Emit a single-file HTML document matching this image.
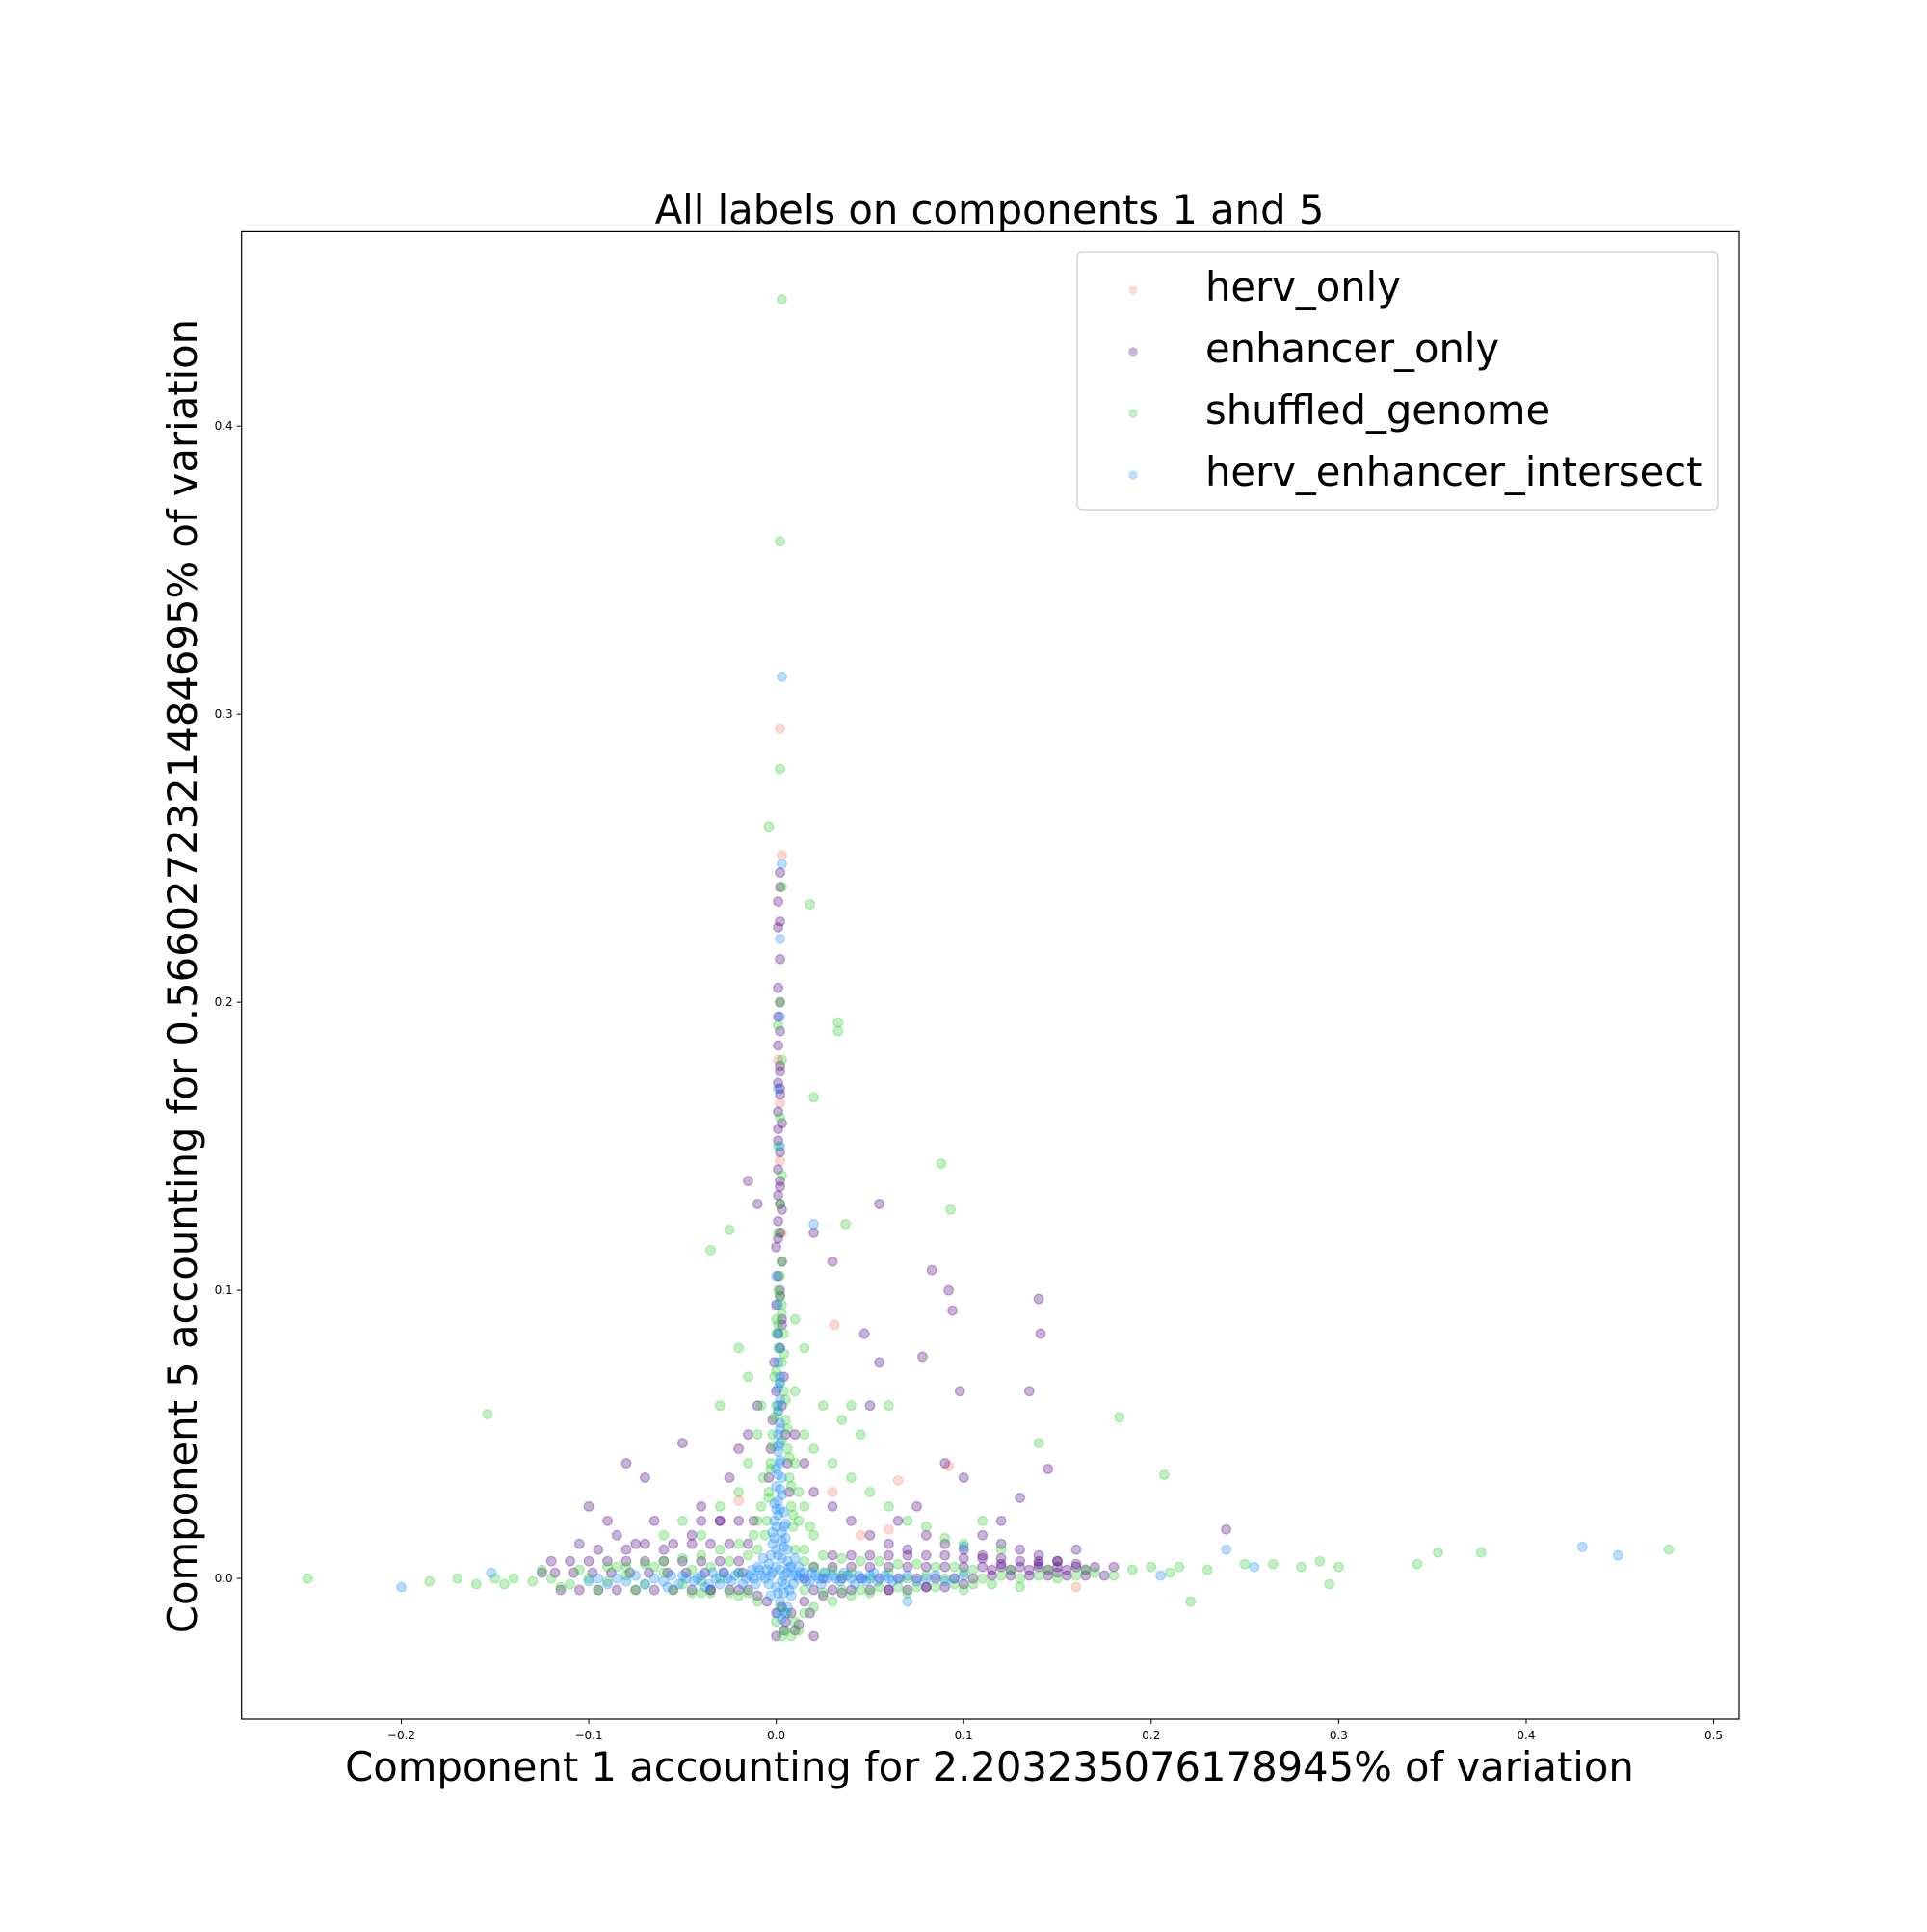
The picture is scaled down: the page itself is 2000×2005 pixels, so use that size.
<!DOCTYPE html>
<html><head><meta charset="utf-8"><style>
html,body{margin:0;padding:0;background:#fff;}
svg text{font-family:"DejaVu Sans","Liberation Sans",sans-serif;}
</style></head><body>
<svg id="chart" width="2000" height="2000" xmlns="http://www.w3.org/2000/svg">
<rect width="2000" height="2000" fill="#fff"/>
<g id="plot"></g>
<rect x="250.7" y="240.4" width="1554.3" height="1543.6" fill="none" stroke="#000" stroke-width="1.2"/>
<g id="ticks"></g>
<text x="1027" y="232" font-size="41.7" text-anchor="middle">All labels on components 1 and 5</text>
<text x="1027" y="1848" font-size="41.7" text-anchor="middle">Component 1 accounting for 2.203235076178945% of variation</text>
<text transform="translate(204,1013) rotate(-90)" font-size="41.7" text-anchor="middle">Component 5 accounting for 0.5660272321484695% of variation</text>
<g>
<rect x="1118" y="262" width="665" height="267" rx="5" fill="#fff" fill-opacity="0.8" stroke="#ccc" stroke-width="1.2"/>
<g id="legend-items"></g>
</g>
</svg>
<script>
const xTicks=[-0.2,-0.1,0.0,0.1,0.2,0.3,0.4,0.5];
const xTickLabels=["\u22120.2","\u22120.1","0.0","0.1","0.2","0.3","0.4","0.5"];
const yTicks=[0.0,0.1,0.2,0.3,0.4];
const yTickLabels=["0.0","0.1","0.2","0.3","0.4"];
const seriesNames=["herv_only","enhancer_only","shuffled_genome","herv_enhancer_intersect"];
const seriesColors=["#FA8072","#4B0082","#32CD32","#1E90FF"];

const hervOnly=[[0.002,0.295],[0.003,0.251],[0.031,0.088],[0.065,0.034],[0.092,0.039],[0.16,-0.003],[0.001,0.18],[0.002,0.165],[0.003,0.12],[-0.02,0.027],[0.045,0.015],[0.03,0.03],[0.06,0.017],[0.002,0.145]];

const enhancerOnly=[[-0.08,0.04],[-0.07,0.035],[-0.1,0.025],[-0.05,0.047],[0.055,0.13],[0.083,0.107],[0.094,0.093],[0.092,0.1],[0.14,0.097],[0.141,0.085],[0.135,0.065],[0.098,0.065],[0.078,0.077],[0.047,0.085],[0.055,0.075],[-0.015,0.138],[-0.01,0.13],[0.02,0.12],[0.03,0.11],[0.05,0.06],[0.09,0.04],[0.1,0.035],[0.13,0.028],[0.145,0.038],[0.24,0.017],[0.16,0.01],[0.0,-0.02],[0.02,-0.02],[0.01,-0.018],
[-0.09,0.02],[-0.085,0.015],[-0.075,0.012],[-0.065,0.02],[-0.06,0.01],[-0.045,0.015],[-0.04,0.025],[-0.03,0.02],[-0.025,0.035],[-0.02,0.045],[-0.015,0.05],[-0.01,0.06],[0.01,0.05],[0.015,0.04],[0.02,0.03],[0.03,0.025],[0.04,0.02],[0.05,0.015],[0.06,0.012],[0.07,0.01],[0.08,0.015],[0.09,0.012],[0.1,0.01],[0.11,0.008],[0.12,0.012],[0.13,0.01],[0.14,0.008],[0.15,0.006],[0.12,0.02],[0.11,0.015],[0.075,0.025],[0.065,0.02],
[-0.12,0.006],[-0.11,0.006],[-0.1,0.006],[-0.09,0.006],[-0.08,0.006],[-0.07,0.006],[-0.06,0.006],[-0.05,0.006],[-0.04,0.006],[-0.03,0.006],[-0.02,0.006],
[-0.115,-0.004],[-0.105,-0.004],[-0.095,-0.004],[-0.085,-0.004],[-0.075,-0.004],[-0.065,-0.004],[-0.055,-0.004],[-0.045,-0.004],[-0.035,-0.004],[-0.025,-0.004],[-0.015,-0.004],
[-0.125,0.002],[-0.118,0.002],[-0.108,0.002],[-0.098,0.002],[-0.088,0.002],[-0.078,0.002],[-0.068,0.002],[-0.058,0.002],[-0.048,0.002],[-0.038,0.002],[-0.028,0.002],[-0.018,0.002],
[-0.07,0.012],[-0.055,0.012],[-0.045,0.012],[-0.035,0.012],[-0.025,0.012],[-0.015,0.012],[-0.04,0.02],[-0.03,0.02],[-0.02,0.02],[-0.012,0.02],[-0.08,0.01],[-0.095,0.01],[-0.105,0.012],
[0.02,0.004],[0.03,0.004],[0.04,0.004],[0.05,0.004],[0.06,0.004],[0.07,0.004],[0.08,0.004],[0.09,0.004],[0.1,0.004],[0.11,0.004],[0.12,0.004],[0.13,0.004],[0.14,0.004],[0.15,0.004],[0.16,0.004],[0.17,0.004],[0.18,0.004],
[0.015,0.0],[0.025,0.0],[0.035,0.0],[0.045,0.0],[0.055,0.0],[0.065,0.0],[0.075,0.0],[0.085,0.0],[0.095,0.0],[0.105,0.0],[0.115,0.001],[0.125,0.001],[0.135,0.001],[0.145,0.001],[0.155,0.001],[0.165,0.001],[0.175,0.001],
[0.03,0.008],[0.04,0.008],[0.05,0.008],[0.06,0.008],[0.07,0.008],[0.08,0.008],[0.09,0.008],[0.1,0.007],[0.11,0.007],[0.12,0.007],[0.13,0.006],[0.14,0.006],[0.15,0.006],[0.16,0.005],
[0.115,0.003],[0.125,0.003],[0.135,0.003],[0.145,0.003],[0.155,0.003],[0.165,0.003],[0.12,0.005],[0.14,0.005],[0.15,0.002],
[0.02,-0.004],[0.03,-0.004],[0.04,-0.004],[0.05,-0.004],[0.06,-0.004],[0.07,-0.004],[0.08,-0.003],[0.09,-0.003],[0.1,-0.002],
[0.002,0.245],[0.002,0.24],[0.001,0.235],[0.002,0.228],[0.001,0.226],[0.002,0.215],[0.001,0.205],[0.002,0.2],[0.001,0.195],[0.002,0.19],[0.001,0.185],[0.002,0.178],[0.001,0.172],[0.002,0.168],[0.001,0.162],[0.003,0.158],[0.001,0.152],[0.002,0.148],[0.001,0.142],[0.002,0.138],[0.001,0.133],[0.003,0.128],[0.001,0.124],[0.002,0.12],[0.0,0.115],[0.003,0.11],[0.001,0.105],[0.002,0.1],[0.0,0.095],[0.003,0.09],[0.001,0.085],[0.002,0.08],[-0.001,0.075],[0.004,0.07],[0.0,0.065],[0.003,0.06],[-0.002,0.055],[0.005,0.05],[-0.003,0.045],[0.006,0.04],[-0.004,0.035],[0.007,0.03],
[0.002,0.176],[0.002,0.17],[0.001,0.156],[0.002,0.136],[0.002,0.13],[0.001,0.118],[0.002,0.098],[0.003,0.088],
[-0.005,-0.008],[0.0,-0.012],[0.005,-0.015],[0.003,-0.01],[0.008,-0.012],[-0.01,-0.006],[0.015,-0.008],[0.025,-0.006],[0.035,-0.005],[-0.02,-0.004],[-0.035,-0.004],[0.06,-0.004],[0.08,-0.003],[0.004,-0.018],[0.012,-0.016],[0.018,-0.012]];

const shuffledGenome=[[0.003,0.444],[0.002,0.36],[0.002,0.281],[-0.004,0.261],[0.018,0.234],[0.003,0.24],[0.033,0.193],[0.033,0.19],[0.088,0.144],[0.093,0.128],[-0.035,0.114],[-0.025,0.121],[0.037,0.123],[0.02,0.167],[-0.154,0.057],[-0.25,0.0],[-0.185,-0.001],[-0.17,0.0],[0.183,0.056],[0.207,0.036],[0.221,-0.008],[0.25,0.005],[0.265,0.005],[0.28,0.004],[0.29,0.006],[0.3,0.004],[0.295,-0.002],[0.342,0.005],[0.353,0.009],[0.376,0.009],[0.476,0.01],[0.14,0.047],[0.04,0.06],[0.06,0.06],[0.2,0.004],[0.21,0.002],[0.215,0.004],[0.23,0.003],[0.19,0.003],[-0.16,-0.002],[-0.15,0.0],[-0.145,-0.002],
[-0.14,0.0],[-0.13,-0.001],[-0.12,0.0],[-0.11,-0.002],[-0.1,0.0],[-0.09,-0.001],[-0.08,0.001],[-0.07,-0.002],[-0.06,0.002],[-0.05,-0.002],[-0.045,0.003],[-0.04,-0.001],[-0.035,0.004],[-0.03,0.0],[-0.025,0.006],[-0.02,0.002],[-0.015,0.008],[-0.01,0.01],[0.01,0.01],[0.015,0.006],[0.02,0.004],[0.025,0.002],[0.03,0.003],[0.035,0.001],[0.04,0.002],[0.05,0.0],[0.06,0.002],[0.07,0.0],[0.08,0.001],[0.09,0.0],[0.1,0.002],[0.11,0.0],[0.12,0.001],[0.13,0.0],[0.14,0.001],[0.15,0.0],[0.16,0.001],[0.17,0.002],[0.18,0.001],
[-0.125,0.003],[-0.115,-0.003],[-0.105,0.003],[-0.095,-0.004],[-0.085,0.004],[-0.075,-0.004],[-0.065,0.004],[-0.055,-0.004],[-0.045,-0.005],[-0.035,-0.005],[-0.025,-0.005],[-0.015,-0.005],[0.015,-0.004],[0.025,-0.005],[0.035,-0.004],[0.045,-0.004],[0.055,-0.003],[0.065,-0.003],[0.075,-0.003],[0.085,-0.003],[0.095,-0.002],[0.105,-0.002],[0.115,-0.002],
[0.015,0.01],[0.025,0.008],[0.035,0.007],[0.045,0.006],[0.055,0.006],[0.065,0.005],[0.075,0.005],[0.085,0.004],[0.095,0.004],[0.105,0.003],[0.125,0.003],[0.145,0.003],[0.165,0.003],[-0.02,0.012],[-0.03,0.01],[-0.04,0.008],[-0.05,0.007],[-0.06,0.006],[-0.07,0.005],[-0.08,0.004],[-0.09,0.004],
[-0.06,0.015],[-0.05,0.02],[-0.04,0.015],[-0.03,0.025],[-0.02,0.03],[-0.015,0.04],[-0.01,0.05],[-0.008,0.06],[0.01,0.065],[0.015,0.05],[0.02,0.045],[0.03,0.04],[0.04,0.035],[0.05,0.03],[0.06,0.025],[0.07,0.02],[0.08,0.018],[0.09,0.014],[0.1,0.012],[0.11,0.02],[0.12,0.01],[0.045,0.05],[0.035,0.055],[0.025,0.06],[0.015,0.08],[-0.015,0.07],[-0.02,0.08],[0.01,0.09],[-0.03,0.06],
[0.012,0.02],[0.012,0.03],[0.015,0.025],[0.018,0.018],[0.02,0.015],[-0.008,0.025],[-0.01,0.02],[-0.012,0.015],[0.01,0.04],[-0.007,0.035],
[0.002,0.2],[0.001,0.192],[0.003,0.18],[0.002,0.16],[0.001,0.15],[0.003,0.14],[0.002,0.13],[0.001,0.12],[0.003,0.11],[0.001,0.1],[0.003,0.095],[0.0,0.09],[0.004,0.085],[0.001,0.08],[0.003,0.075],[-0.001,0.07],[0.004,0.065],[0.0,0.06],[0.005,0.055],[-0.002,0.05],[0.006,0.045],[-0.003,0.04],[0.007,0.035],[-0.004,0.03],[0.008,0.025],[-0.005,0.02],[0.009,0.018],[-0.006,0.015],[0.0,0.085],[0.002,0.068],[0.001,0.058],[0.003,0.048],
[0.002,0.105],[0.002,0.098],[0.003,0.092],[0.001,0.088],[0.004,0.078],[0.0,0.072],[0.005,0.062],[-0.001,0.056],[0.006,0.052],[-0.002,0.046],[0.007,0.042],[-0.003,0.038],[0.008,0.032],[-0.004,0.028],[0.009,0.022],
[0.0,-0.015],[0.005,-0.018],[0.01,-0.015],[0.003,-0.02],[0.015,-0.012],[0.02,-0.01],[-0.01,-0.008],[-0.02,-0.006],[0.03,-0.008],[0.04,-0.006],[0.05,-0.005],[-0.04,-0.005],[0.07,-0.005],[0.1,-0.004],[0.13,-0.003],[0.008,-0.02],[0.012,-0.018],[0.006,-0.012],[0.002,-0.01]];

const hervEnhancerIntersect=[[0.003,0.313],[0.003,0.248],[0.002,0.222],[0.02,0.123],[-0.2,-0.003],[-0.152,0.002],[0.24,0.01],[0.255,0.004],[0.43,0.011],[0.449,0.008],[0.205,0.001],[0.002,0.195],[0.001,0.17],[0.002,0.15],[0.0,0.105],[0.001,0.095],
[0.001,0.085],[0.002,0.08],[0.001,0.075],[0.002,0.07],[0.001,0.066],[0.002,0.062],[0.001,0.058],[0.002,0.054],[0.001,0.05],[0.002,0.047],[0.001,0.044],[0.002,0.041],[0.0,0.038],[0.003,0.035],[0.0,0.032],[0.003,0.029],[-0.001,0.026],[0.004,0.023],[-0.001,0.02],[0.004,0.018],[-0.002,0.016],[0.005,0.014],[-0.002,0.012],[0.006,0.01],[-0.003,0.008],[0.006,0.006],[-0.004,0.005],[0.007,0.004],[0.0,0.01],[0.003,0.016],[0.001,0.022],[0.002,0.003],
[0.002,0.068],[0.001,0.06],[0.002,0.052],[0.001,0.046],[0.002,0.04],[0.001,0.036],[0.002,0.031],[0.001,0.027],[0.002,0.024],[0.0,0.018],[0.003,0.013],[0.001,0.008],[0.004,0.011],[-0.001,0.014],[0.005,0.019],[0.0,0.024],
[-0.01,0.004],[-0.007,0.007],[0.01,0.007],[0.012,0.004],[-0.008,0.001],[0.009,0.001],[0.0,-0.003],[0.004,-0.005],[0.002,-0.008],[0.006,-0.01],[0.001,-0.012],[-0.003,-0.006],[0.008,-0.006],[0.003,-0.001],
[-0.012,0.0],[-0.009,0.003],[-0.006,0.0],[-0.005,0.003],[-0.003,0.001],[0.0,0.004],[0.004,0.001],[0.006,0.002],[0.008,0.004],[0.011,0.001],[0.013,0.002],[0.003,0.007],[-0.002,0.002],[0.005,-0.002],[0.001,-0.005],[0.007,-0.004],[-0.004,-0.002],[0.009,-0.002],[0.003,-0.014],[0.005,-0.012],
[-0.1,-0.001],[-0.095,0.0],[-0.09,-0.002],[-0.085,0.0],[-0.08,-0.001],[-0.075,0.001],[-0.07,-0.002],[-0.065,0.0],[-0.06,-0.001],[-0.056,0.001],[-0.052,-0.002],[-0.048,0.0],[-0.044,-0.001],[-0.04,0.001],[-0.036,-0.002],[-0.032,0.0],[-0.028,0.002],[-0.024,-0.001],[-0.02,0.002],[-0.016,0.0],[-0.013,0.003],[-0.011,-0.002],
[-0.058,-0.003],[-0.05,0.001],[-0.042,0.0],[-0.038,-0.003],[-0.034,0.002],[-0.03,-0.002],[-0.026,0.0],[-0.022,0.001],[-0.018,-0.002],[-0.014,0.001],
[0.012,0.0],[0.015,0.002],[0.018,-0.001],[0.021,0.001],[0.024,-0.002],[0.027,0.0],[0.03,0.001],[0.034,-0.001],[0.038,0.001],[0.042,-0.002],[0.046,0.0],[0.05,0.001],[0.054,-0.001],[0.058,0.001],[0.062,-0.001],[0.066,0.0],[0.07,0.001],[0.075,-0.001],[0.08,0.0],[0.085,0.001],[0.09,-0.001],[0.095,0.0],[0.1,0.001],[0.07,-0.008],[0.1,0.011],
[0.016,-0.001],[0.019,0.002],[0.023,0.0],[0.026,0.002],[0.032,0.0],[0.036,0.002],[0.04,0.0],[0.044,0.001],[0.048,-0.001],[0.052,0.002],[0.06,0.0]];

const allSeries=[hervOnly,enhancerOnly,shuffledGenome,hervEnhancerIntersect];

const L=250.7,R=1805,T=240.4,B=1784,xMin=-0.2852,xMax=0.5136,yMin=-0.0488,yMax=0.4675;
function sx(v){return L+(v-xMin)/(xMax-xMin)*(R-L);}
function sy(v){return B-(v-yMin)/(yMax-yMin)*(B-T);}
const NS="http://www.w3.org/2000/svg";
const plot=document.getElementById('plot');
[0,1,2,3].forEach(si=>{
  const g=document.createElementNS(NS,'g');
  
  
  allSeries[si].forEach(p=>{
    const c=document.createElementNS(NS,'circle');
    
    
    c.setAttribute('cx',sx(p[0]));c.setAttribute('cy',sy(p[1]));c.setAttribute('r',4.8);
    c.setAttribute('fill',seriesColors[si]);c.setAttribute('fill-opacity',0.3);
    c.setAttribute('stroke',seriesColors[si]);c.setAttribute('stroke-opacity',0.3);c.setAttribute('stroke-width',1.3);
    g.appendChild(c);
  });
  plot.appendChild(g);
});
const tk=document.getElementById('ticks');
xTicks.forEach((v,i)=>{
  const x=sx(v);
  const l=document.createElementNS(NS,'line');
  
  
  l.setAttribute('x1',x);l.setAttribute('x2',x);l.setAttribute('y1',B);l.setAttribute('y2',B+5);l.setAttribute('stroke','#000');
  tk.appendChild(l);
  const t=document.createElementNS(NS,'text');
  
  
  t.setAttribute('x',x);t.setAttribute('y',B+21);t.setAttribute('font-size','12');t.setAttribute('text-anchor','middle');
  t.textContent=xTickLabels[i];tk.appendChild(t);
});
yTicks.forEach((v,i)=>{
  const y=sy(v);
  const l=document.createElementNS(NS,'line');
  
  
  l.setAttribute('x1',L-5);l.setAttribute('x2',L);l.setAttribute('y1',y);l.setAttribute('y2',y);l.setAttribute('stroke','#000');
  tk.appendChild(l);
  const t=document.createElementNS(NS,'text');
  
  
  t.setAttribute('x',L-9);t.setAttribute('y',y+4);t.setAttribute('font-size','12');t.setAttribute('text-anchor','end');
  t.textContent=yTickLabels[i];tk.appendChild(t);
});
const li=document.getElementById('legend-items');
seriesNames.forEach((n,i)=>{
  const y=298+i*64;
  const c=document.createElementNS(NS,'circle');
  
  
  c.setAttribute('cx',1176);c.setAttribute('cy',y+3);c.setAttribute('r',4.8);c.setAttribute('fill',seriesColors[i]);c.setAttribute('fill-opacity',0.3);
  li.appendChild(c);
  const t=document.createElementNS(NS,'text');
  
  
  t.setAttribute('x',1251);t.setAttribute('y',y+14);t.setAttribute('font-size','41.7');
  t.textContent=n;li.appendChild(t);
});
</script>
</body></html>
